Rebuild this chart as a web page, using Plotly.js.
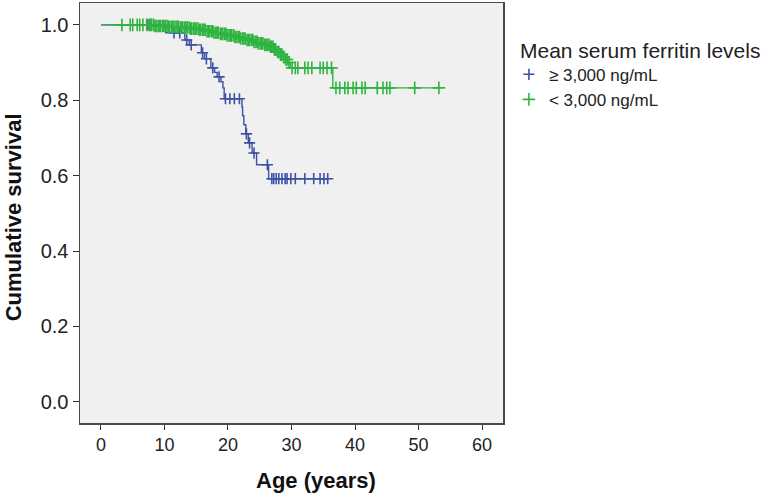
<!DOCTYPE html>
<html lang="en">
<head>
    <meta charset="UTF-8">
    <title>Cumulative survival by mean serum ferritin</title>
    <script src="https://cdn.plot.ly/plotly-3.0.1.min.js"></script>
    <style>
        * { margin: 0; padding: 0; box-sizing: border-box; }
        body { background: #ffffff; }
        #plot { width: 771px; height: 497px; }
    </style>
</head>
<body>
    <div id="plot"></div>

    <script>
        // >= 3,000 ng/mL group: event ages and survival after each drop
        const highStepAge  = [10.2, 13.2, 13.9, 15.8, 16.3, 17.3, 17.9, 18.3, 18.9, 19.2, 19.4, 22.2, 22.3, 22.5, 22.8, 23.2, 23.8, 24.5, 26.4];
        const highStepSurv = [0.979, 0.960, 0.947, 0.926, 0.910, 0.886, 0.874, 0.862, 0.849, 0.833, 0.804, 0.782, 0.759, 0.735, 0.711, 0.687, 0.660, 0.629, 0.592];
        const highEndAge = 35.7;
        const highCensor = [7.4, 11.5, 12.4, 13.5, 14.2, 16.0, 16.6, 17.6, 18.6, 19.6, 20.3, 21.0, 21.8,
            22.9, 23.4, 24.1, 26.2, 26.9, 27.2, 27.6, 28.0, 28.5, 29.0, 29.3, 29.9, 30.6, 32.1, 33.5, 34.5, 35.1, 35.7];

        // < 3,000 ng/mL group
        const lowStepAge  = [8.5, 10.5, 12.5, 14.0, 15.5, 16.7, 17.8, 18.7, 19.8, 21.0, 22.0, 23.0, 24.0, 24.8, 25.6, 26.6, 27.2, 27.7, 28.2, 28.7, 29.0, 29.4, 29.8, 36.5];
        const lowStepSurv = [0.997, 0.995, 0.993, 0.990, 0.987, 0.983, 0.979, 0.976, 0.972, 0.968, 0.964, 0.960, 0.955, 0.951, 0.947, 0.942, 0.935, 0.928, 0.921, 0.915, 0.908, 0.900, 0.886, 0.833];
        const lowEndAge = 53.2;
        const lowCensor = [3.3, 4.6, 5.0, 5.7, 6.1, 6.6, 7.2,
            7.6, 7.8, 8.0, 8.3, 8.5, 8.7, 9.0, 9.2, 9.4, 9.7, 9.9, 10.1, 10.4, 10.6, 10.8, 11.1, 11.3, 11.5,
            11.8, 12.0, 12.2, 12.5, 12.7, 12.9, 13.2, 13.4, 13.6, 13.9, 14.1, 14.3, 14.6, 14.8, 15.0,
            15.3, 15.5, 15.7, 16.0, 16.2, 16.4, 16.7, 16.9, 17.1, 17.4, 17.6, 17.8, 18.1, 18.3, 18.5,
            18.8, 19.0, 19.2, 19.5, 19.7, 19.9, 20.2, 20.4, 20.6, 20.9, 21.1, 21.3, 21.6, 21.8, 22.0,
            22.3, 22.5, 22.7, 23.0, 23.2, 23.4, 23.7, 23.9, 24.1, 24.4, 24.6, 24.8, 25.1, 25.3, 25.5,
            25.8, 26.0, 26.2, 26.5, 26.7, 26.9, 27.1, 27.3, 27.5, 27.8, 28.0, 28.3, 28.5, 28.8, 29.1,
            29.3, 29.6, 30.1, 30.6, 31.0, 32.1, 32.6, 33.2, 34.5, 35.0,
            35.6, 36.3, 37.0, 37.6, 38.4, 38.9, 39.7, 40.2, 41.1, 41.6, 43.5, 44.4, 45.0, 45.5, 49.4, 53.2];

        const groupNames = ['\u2265 3,000 ng/mL', '< 3,000 ng/mL'];
        const groupColors = ['#3d52a6', '#2fb441'];
        const xTicks = [0, 10, 20, 30, 40, 50, 60];
        const yTicks = [0, 0.2, 0.4, 0.6, 0.8, 1.0];

        function stepLine(ages, survs, endAge) {
            return {
                x: [0].concat(ages, [endAge]),
                y: [1].concat(survs, [survs[survs.length - 1]])
            };
        }

        function survAt(ages, survs, t) {
            let s = 1;
            for (let i = 0; i < ages.length; i++) {
                if (ages[i] <= t) s = survs[i];
            }
            return s;
        }

        function buildTraces(ages, survs, endAge, censor, name, color, markSize) {
            const line = stepLine(ages, survs, endAge);
            return [
                {
                    x: line.x, y: line.y,
                    type: 'scatter', mode: 'lines',
                    line: { color: color, width: 1.4, shape: 'hv' },
                    showlegend: false, hoverinfo: 'skip'
                },
                {
                    x: censor,
                    y: censor.map(t => survAt(ages, survs, t)),
                    type: 'scatter', mode: 'markers',
                    name: name,
                    marker: {
                        symbol: 'cross-thin', size: markSize,
                        color: color, line: { color: color, width: 1.6 }
                    }
                }
            ];
        }

        const traces = [].concat(
            buildTraces(highStepAge, highStepSurv, highEndAge, highCensor, groupNames[0], groupColors[0], 8),
            buildTraces(lowStepAge, lowStepSurv, lowEndAge, lowCensor, groupNames[1], groupColors[1], 9)
        );

        const fam = 'Liberation Sans, Arial, sans-serif';

        const layout = {
            width: 771,
            height: 497,
            margin: { l: 80, r: 268, t: 3, b: 74 },
            paper_bgcolor: '#ffffff',
            plot_bgcolor: '#f0f0f0',
            font: { family: fam, size: 17, color: '#222' },
            xaxis: {
                range: [-3.3, 63.3],
                tickvals: xTicks,
                ticks: 'outside', ticklen: 5, tickcolor: '#333', tickwidth: 1,
                showgrid: false, zeroline: false,
                showline: true, mirror: true, linecolor: '#4a4a4a', linewidth: 1.5,
                tickfont: { family: fam, size: 18, color: '#222' }
            },
            yaxis: {
                range: [-0.056, 1.058],
                tickvals: yTicks,
                tickformat: '.1f',
                ticks: 'outside', ticklen: 6, tickcolor: '#333', tickwidth: 1,
                showgrid: false, zeroline: false,
                showline: true, mirror: true, linecolor: '#4a4a4a', linewidth: 1.5,
                tickfont: { family: fam, size: 20, color: '#222' }
            },
            showlegend: true,
            legend: {
                x: 1.014, y: 0.872, xanchor: 'left', yanchor: 'top',
                bgcolor: 'rgba(0,0,0,0)',
                font: { family: fam, size: 17, color: '#222' },
                itemwidth: 30
            },
            annotations: [
                {
                    text: 'Mean serum ferritin levels',
                    xref: 'paper', yref: 'paper', x: 1.035, y: 0.888,
                    xanchor: 'left', yanchor: 'middle', showarrow: false,
                    font: { family: fam, size: 21, color: '#222' }
                },
                {
                    text: '<b>Age (years)</b>',
                    xref: 'paper', yref: 'paper', x: 0.558, y: -0.136,
                    xanchor: 'center', yanchor: 'middle', showarrow: false,
                    font: { family: fam, size: 22, color: '#111' }
                },
                {
                    text: '<b>Cumulative survival</b>',
                    xref: 'paper', yref: 'paper', x: -0.158, y: 0.49, textangle: -90,
                    xanchor: 'center', yanchor: 'middle', showarrow: false,
                    font: { family: fam, size: 22, color: '#111' }
                }
            ]
        };

        Plotly.newPlot('plot', traces, layout, { displayModeBar: false, staticPlot: true });
    </script>
</body>
</html>
